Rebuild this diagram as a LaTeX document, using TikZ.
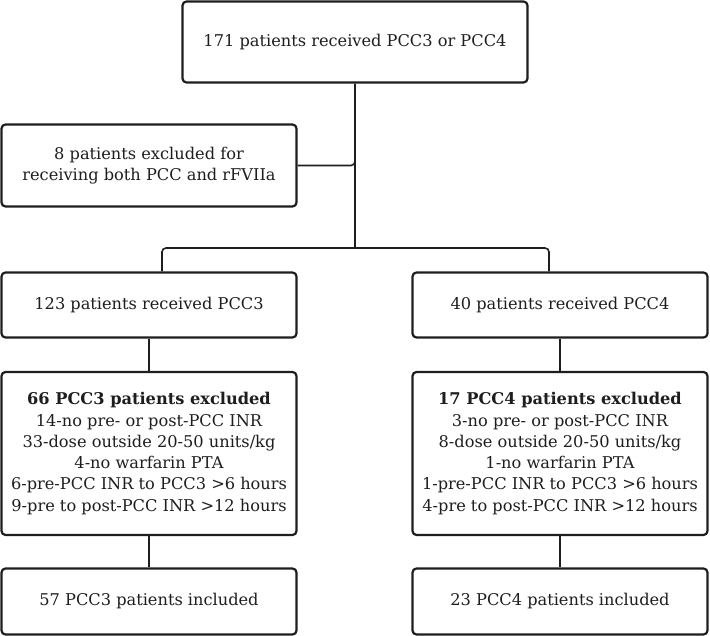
\documentclass[tikz,border=0pt]{standalone}
\usepackage{fontspec}
\setmainfont{DejaVu Serif}
\definecolor{ink}{HTML}{1E1E1E}
\begin{document}
\begin{tikzpicture}[x=1pt,y=-1pt,
  box/.style={draw=ink,line width=2.2pt,rounded corners=4pt,fill=white,text=ink,
    align=center,inner sep=0pt,font=\fontsize{16.2}{21.3}\selectfont},
  conn/.style={draw=ink,line width=1.6pt}]
\useasboundingbox (0,0) rectangle (710,636);
\node[box,minimum width=345pt,minimum height=81pt] (top) at (355,42) {171 patients received PCC3 or PCC4};
\node[box,minimum width=295pt,minimum height=82pt] (excl) at (149,165.5) {8 patients excluded for\\receiving both PCC and rFVIIa};
\node[box,minimum width=295pt,minimum height=65pt] (b3) at (149,305) {123 patients received PCC3};
\node[box,minimum width=295pt,minimum height=65pt] (b4) at (560,305) {40 patients received PCC4};
\node[box,minimum width=295pt,minimum height=163pt] (e3) at (149,453.5) {\textbf{66 PCC3 patients excluded}\\14-no pre- or post-PCC INR\\33-dose outside 20-50 units/kg\\4-no warfarin PTA\\6-pre-PCC INR to PCC3 >6 hours\\9-pre to post-PCC INR >12 hours};
\node[box,minimum width=295pt,minimum height=163pt] (e4) at (560,453.5) {\textbf{17 PCC4 patients excluded}\\3-no pre- or post-PCC INR\\8-dose outside 20-50 units/kg\\1-no warfarin PTA\\1-pre-PCC INR to PCC3 >6 hours\\4-pre to post-PCC INR >12 hours};
\node[box,minimum width=295pt,minimum height=66pt] (i3) at (149,601.5) {57 PCC3 patients included};
\node[box,minimum width=295pt,minimum height=66pt] (i4) at (560,601.5) {23 PCC4 patients included};
\coordinate (hub) at (355,248);
\draw[conn,rounded corners=4pt] (top.south) |- (excl.east);
\draw[conn] (top.south) -- (hub);
\draw[conn,rounded corners=4pt] (hub) -| ([xshift=13pt]b3.north);
\draw[conn,rounded corners=4pt] (hub) -| ([xshift=-11pt]b4.north);
\draw[conn] (b3.south) -- (e3.north);
\draw[conn] (b4.south) -- (e4.north);
\draw[conn] (e3.south) -- (i3.north);
\draw[conn] (e4.south) -- (i4.north);
\end{tikzpicture}
\end{document}
